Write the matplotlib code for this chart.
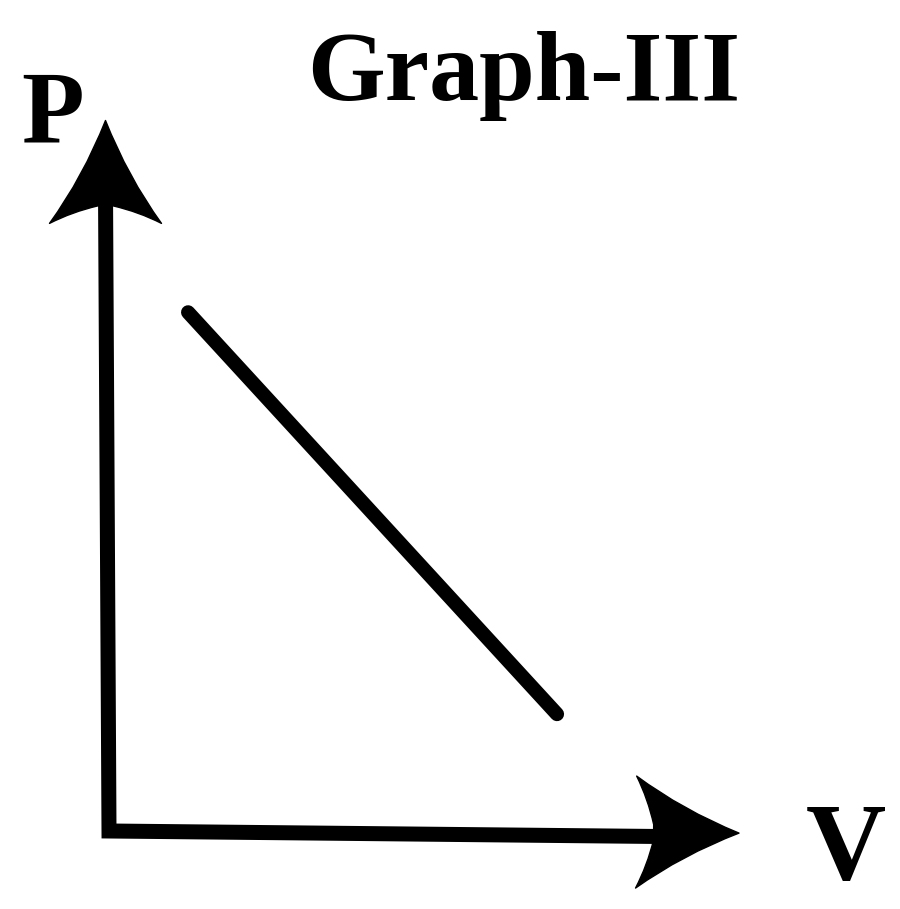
import matplotlib
matplotlib.use("Agg")
import matplotlib.pyplot as plt
from matplotlib.path import Path
from matplotlib.patches import PathPatch
import numpy as np

# P-V line (arbitrary units, origin at the axis corner)
line_v = [1.13, 6.40]
line_p = [7.41, 1.67]

title = "Graph-III"
xlabel = "V"
ylabel = "P"

# axis extents (tips of arrows)
v_tip = 9.0
p_tip = 10.15

SCALE = 70.0          # px per unit, same both ways
ORIGIN = (109, 831)   # px position of (0, 0)
W, H = 900, 909


def arrow_head(tip, direction, length=1.47, half=0.80, notch=1.22, shaft=0.11):
    """curved 'fancy' arrow head as a PathPatch, tip at `tip`."""
    d = np.asarray(direction, float)
    d = d / np.hypot(*d)
    n = np.array([-d[1], d[0]])
    tip = np.asarray(tip, float)

    def pt(u, v):
        return tip - u * d + v * n

    bu, bv = 0.5 * (length + notch) - 0.04, 0.5 * (half + shaft) + 0.02
    verts = [pt(0, 0),
             pt(0.55 * length, 0.40 * half), pt(length, half),
             pt(bu, bv), pt(notch, shaft),
             pt(notch, -shaft),
             pt(bu, -bv), pt(length, -half),
             pt(0.55 * length, -0.40 * half), pt(0, 0),
             pt(0, 0)]
    codes = [Path.MOVETO,
             Path.CURVE3, Path.CURVE3,
             Path.CURVE3, Path.CURVE3,
             Path.LINETO,
             Path.CURVE3, Path.CURVE3,
             Path.CURVE3, Path.CURVE3,
             Path.CLOSEPOLY]
    return PathPatch(Path(verts, codes), facecolor="black", edgecolor="black",
                     lw=1.0, joinstyle="round")


fig = plt.figure(figsize=(W / 100, H / 100), dpi=100)
ax = fig.add_axes([0, 0, 1, 1])
ax.set_xlim(-ORIGIN[0] / SCALE, (W - ORIGIN[0]) / SCALE)
ax.set_ylim((ORIGIN[1] - H) / SCALE, ORIGIN[1] / SCALE)
ax.axis("off")

# axes drawn as one polyline so the corner is square
ax.plot([-0.05, 0, 8.0], [p_tip - 1.0, 0, -0.08], color="black", lw=10.8,
        solid_joinstyle="miter", solid_capstyle="butt")
ax.add_patch(arrow_head((-0.05, p_tip), (0, 1)))
ax.add_patch(arrow_head((v_tip, -0.03), (1, -0.01)))

# the P-V line
ax.plot(line_v, line_p, color="black", lw=10.2, solid_capstyle="round")

font = dict(family="Liberation Serif", weight="bold", color="black")
ax.text(5.93, 10.44, title, fontsize=72, ha="center", va="baseline", **font)
ax.text(-0.81, 9.83, ylabel, fontsize=74, ha="center", va="baseline", **font)
ax.text(10.52, -0.69, xlabel, fontsize=80, ha="center", va="baseline", **font)

fig.savefig("out.png", dpi=100, facecolor="white")
